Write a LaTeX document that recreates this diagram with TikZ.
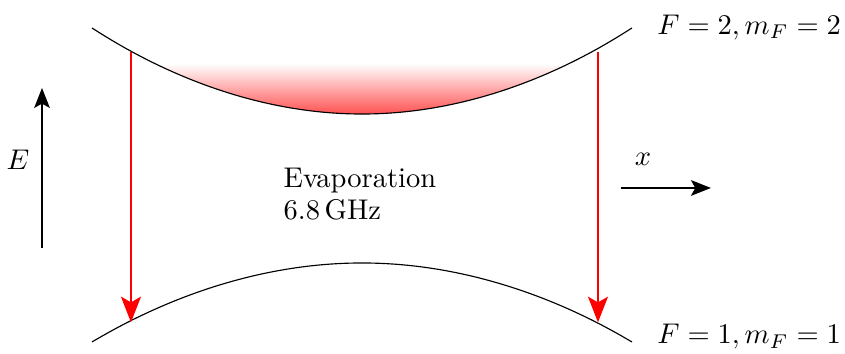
\documentclass[tikz,border=0pt]{standalone}
\usepackage{amsmath}
\usetikzlibrary{arrows.meta,positioning}

\begin{document}
\begin{tikzpicture}[
  level/.style={draw=black, line width=0.4pt},
  trans/.style={draw=red, thick, -{Stealth[length=9pt, width=7pt, inset=2pt]}},
  axis/.style={draw=black, semithick, -{Stealth[length=7pt, width=5.5pt, inset=1.5pt]}},
  lbl/.style={font=\normalsize, inner sep=0pt}
]
  \useasboundingbox (0,0) rectangle (10.42,4.365);

  %% Upper level F=2 with trapped cloud
  \begin{scope}
    \clip (1.134,4.02) parabola bend (4.464,2.959) (7.793,4.02) -- cycle;
    \shade[top color=white, bottom color=red!68] (1.134,3.58) rectangle (7.793,2.959);
  \end{scope}
  \draw[level] (1.134,4.02) parabola bend (4.464,2.959) (7.793,4.02);
  \node[lbl, anchor=west] (upper) at (8.10,4.03) {$F=2, m_F=2$};

  %% Lower level F=1
  \draw[level] (1.134,0.148) parabola bend (4.464,1.122) (7.793,0.148);
  \node[lbl, anchor=west] (lower) at (8.10,0.21) {$F=1, m_F=1$};

  %% Evaporation transitions
  \coordinate (up1) at (1.615,3.72);
  \coordinate (lo1) at (1.615,0.39);
  \coordinate (up2) at (7.374,3.72);
  \coordinate (lo2) at (7.374,0.39);
  \draw[trans] (up1) -- (lo1);
  \draw[trans] (up2) -- (lo2);

  \node[lbl, anchor=west, align=left] (evap) at (3.49,1.97) {Evaporation\\[-1pt]6.8\,GHz};

  %% Energy axis
  \coordinate (e0) at (0.518,1.307);
  \coordinate (e1) at (0.518,3.280);
  \draw[axis] (e0) -- (e1);
  \node[lbl] (elbl) at (0.222,2.392) {$E$};

  %% Position axis
  \coordinate (x0) at (7.657,2.047);
  \coordinate (x1) at (8.767,2.047);
  \draw[axis] (x0) -- (x1);
  \node[lbl] (xlbl) at (7.928,2.40) {$x$};
\end{tikzpicture}
\end{document}
